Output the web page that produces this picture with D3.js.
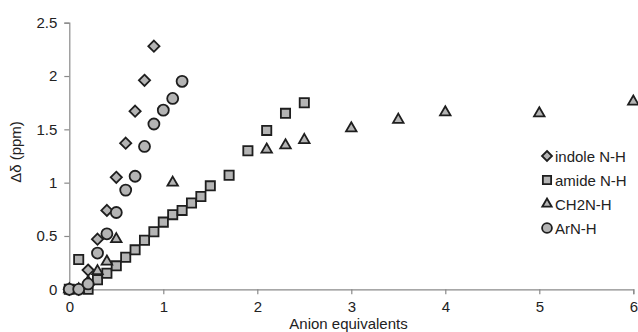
<!DOCTYPE html>
<html>
  <head>
    <script src="https://d3js.org/d3.v7.min.js"></script>
    <style>
      body { margin: 0; background-color: white; }
      text { font-family: 'Liberation Sans', Arial, sans-serif; fill: #222; }
    </style>
  </head>
  <body>
    <svg id="canvas" width="638" height="332"></svg>
    <script>
      // anion equivalents vs shift change
      const indoleX = [0, 0.1, 0.2, 0.3, 0.4, 0.5, 0.6, 0.7, 0.8, 0.9]
      const indoleY = [0, 0, 0.18, 0.47, 0.74, 1.05, 1.37, 1.67, 1.96, 2.28]

      const amideX = [0, 0.1, 0.2, 0.3, 0.4, 0.5, 0.6, 0.7, 0.8, 0.9, 1.0, 1.1, 1.2, 1.3, 1.4, 1.5, 1.7, 1.9, 2.1, 2.3, 2.5]
      const amideY = [0, 0.28, 0, 0.09, 0.15, 0.22, 0.3, 0.37, 0.46, 0.54, 0.63, 0.7, 0.74, 0.81, 0.87, 0.97, 1.07, 1.3, 1.49, 1.65, 1.75]

      const ch2nX = [0, 0.1, 0.2, 0.3, 0.4, 0.5, 1.1, 2.1, 2.3, 2.5, 3, 3.5, 4, 5, 6]
      const ch2nY = [0, 0, 0.07, 0.17, 0.26, 0.47, 1.0, 1.31, 1.35, 1.4, 1.51, 1.59, 1.66, 1.65, 1.76]

      const arnX = [0, 0.1, 0.2, 0.3, 0.4, 0.5, 0.6, 0.7, 0.8, 0.9, 1.0, 1.1, 1.2]
      const arnY = [0, 0, 0.05, 0.34, 0.52, 0.72, 0.93, 1.06, 1.34, 1.55, 1.68, 1.79, 1.95]

      const xTicks = [0, 1, 2, 3, 4, 5, 6]
      const yTicks = [0, 0.5, 1, 1.5, 2, 2.5]

      const seriesNames = ['indole N-H', 'amide N-H', 'CH2N-H', 'ArN-H']

      const series = [
        { name: seriesNames[0], xs: indoleX, ys: indoleY, shape: d3.symbolDiamond2, size: 80 },
        { name: seriesNames[1], xs: amideX, ys: amideY, shape: d3.symbolSquare, size: 85 },
        { name: seriesNames[2], xs: ch2nX, ys: ch2nY, shape: d3.symbolTriangle, size: 48 },
        { name: seriesNames[3], xs: arnX, ys: arnY, shape: d3.symbolCircle, size: 95 }
      ]

      const margin = { top: 22.7, right: 4.7, bottom: 42.7, left: 69.3 }
      const svg = d3.select('#canvas')
      const width = 638 - margin.left - margin.right
      const height = 332 - margin.top - margin.bottom

      const g = svg.append('g').attr('transform', `translate(${margin.left}, ${margin.top})`)

      const x = d3.scaleLinear().domain([0, 6]).range([0, width])
      const y = d3.scaleLinear().domain([0, 2.5]).range([height, 0])

      const axisColor = '#8a8a8a'

      // axes
      const xAxis = g.append('g')
        .attr('transform', `translate(0, ${height})`)
        .call(d3.axisBottom(x).tickValues(xTicks).tickFormat(d3.format('d')).tickSizeOuter(0).tickSize(5).tickPadding(7))
      const yAxis = g.append('g')
        .call(d3.axisLeft(y).tickValues(yTicks).tickFormat(d => d).tickSizeOuter(0).tickSize(5).tickPadding(7))

      for (const a of [xAxis, yAxis]) {
        a.select('.domain').attr('stroke', axisColor).attr('stroke-width', 1.2)
        a.selectAll('.tick line').attr('stroke', axisColor).attr('stroke-width', 1.2)
        a.selectAll('.tick text').style('font-size', '15px').attr('fill', '#222')
      }

      // titles
      svg.append('text')
        .attr('x', 348.5)
        .attr('y', 328.5)
        .attr('text-anchor', 'middle')
        .style('font-size', '15px')
        .text('Anion equivalents')

      svg.append('text')
        .attr('transform', 'translate(21, 152) rotate(-90)')
        .attr('text-anchor', 'middle')
        .style('font-size', '15px')
        .text('Δδ (ppm)')

      // points
      const marker = s => d3.symbol().type(s.shape).size(s.size)

      series.forEach(s => {
        g.append('g').selectAll('path')
          .data(s.xs.map((v, i) => [v, s.ys[i]]))
          .enter()
          .append('path')
            .attr('d', marker(s))
            .attr('transform', d => `translate(${x(d[0])}, ${y(d[1])})`)
            .attr('fill', '#b4b4b4')
            .attr('stroke', '#1e1e1e')
            .attr('stroke-width', 1.8)
      })

      // legend
      const leg = svg.append('g').attr('transform', 'translate(547, 156)')
      series.forEach((s, i) => {
        const row = leg.append('g').attr('transform', `translate(0, ${i * 24})`)
        row.append('path')
          .attr('d', d3.symbol().type(s.shape).size(s.size * 0.8)())
          .attr('fill', '#b4b4b4')
          .attr('stroke', '#1e1e1e')
          .attr('stroke-width', 1.8)
        row.append('text')
          .attr('x', 8)
          .attr('y', 5.5)
          .style('font-size', '15px')
          .text(s.name)
      })
    </script>
  </body>
</html>
